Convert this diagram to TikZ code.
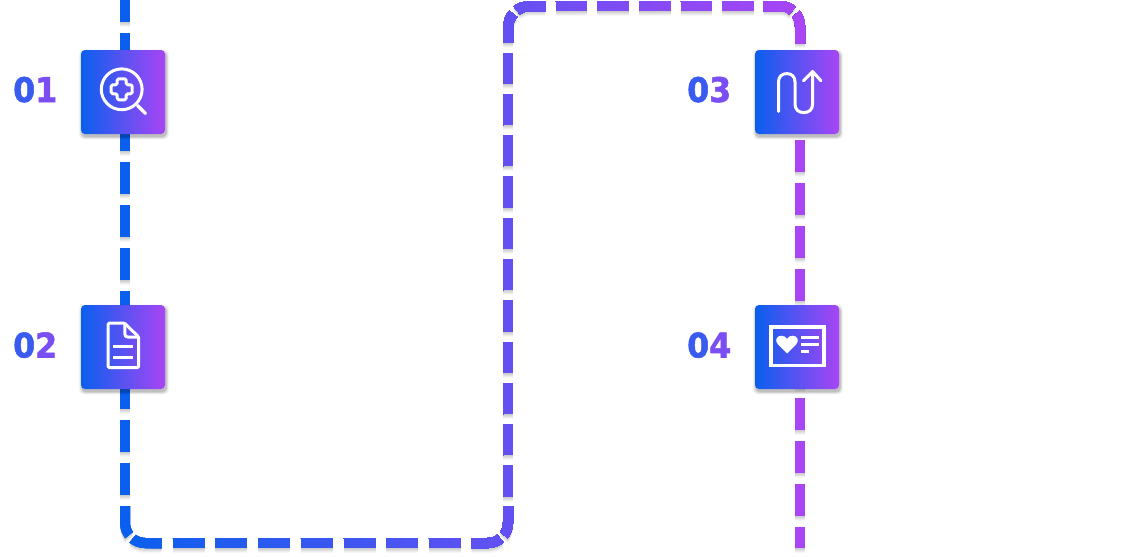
\documentclass[tikz,border=0pt]{standalone}
\usepackage{fontspec}
\setmainfont{DejaVu Sans}
\newfontfamily\numfont[FakeBold=1.6,FakeStretch=0.93]{DejaVu Sans Bold}
\usetikzlibrary{calc}
\definecolor{gradA}{HTML}{0A5FEE}
\definecolor{gradB}{HTML}{A845F5}
\definecolor{numA}{HTML}{3A5BF0}
\definecolor{numB}{HTML}{7A4EF3}
\tikzset{
  routeline/.style={line width=10pt,line cap=butt},
  iconbox/.style={rectangle,minimum size=84pt,inner sep=0pt,rounded corners=4pt,left color=gradA,right color=gradB,draw=none},
  iconline/.style={draw=white,line width=3pt,line cap=round,line join=round},
  numlabel/.style={anchor=base west,inner sep=0pt,font=\numfont\fontsize{34}{34}\selectfont},
}
% all the dashed pieces of the route
\newcommand{\routepieces}[1]{%
  \draw[routeline,#1,dash pattern=on 32pt off 11pt] (r0) -- (r1);
  \draw[routeline,#1,rounded corners=20pt,dash pattern=on 30pt off 5pt on 30pt] (r2) -- (r3) -- (r4);
  \draw[routeline,#1,dash pattern=on 32pt off 10.7pt] (r5) -- (r6);
  \draw[routeline,#1,rounded corners=20pt,dash pattern=on 29.7pt off 5pt on 29.7pt] (r7) -- (r8) -- (r9);
  \draw[routeline,#1,dash pattern=on 31.3pt off 10pt] (r10) -- (r11);
  \draw[routeline,#1,rounded corners=22pt,dash pattern=on 30pt off 5pt on 30pt] (r12) -- (r13) -- (r14);
  \draw[routeline,#1,dash pattern=on 31.5pt off 10.15pt] (r15) -- (r16);
  \draw[routeline,#1,rounded corners=20pt,dash pattern=on 30pt off 5pt on 30pt] (r17) -- (r18) -- (r19);
  \draw[routeline,#1,dash pattern=on 32pt off 11pt] (r20) -- (r21);
}
\newcommand{\boxshadow}[1]{%
  \foreach \s/\o in {6/.025,5/.03,4/.04,3/.05,2/.06,1/.07}{
    \fill[black,opacity=\o,rounded corners=5pt] ($(#1.south west)+(-\s*.5+1,\s*.5+2.5)$) rectangle ($(#1.north east)+(\s*.5+1,-\s*.5+2.5)$);
  }%
}
\begin{document}
\begin{tikzpicture}[x=1pt,y=-1pt]
\useasboundingbox (0,0) rectangle (1144,557);
\clip (0,0) rectangle (1144,557);
\fill[white] (0,0) rectangle (1144,557);
% route coordinates
\coordinate (r0) at (125,-10);   \coordinate (r1) at (125,495);
\coordinate (r2) at (125,506);   \coordinate (r3) at (125,543);   \coordinate (r4) at (161.7,543);
\coordinate (r5) at (172.7,543); \coordinate (r6) at (460.7,543);
\coordinate (r7) at (471.7,543); \coordinate (r8) at (508,543);   \coordinate (r9) at (508,506.7);
\coordinate (r10) at (508,496.7);\coordinate (r11) at (508,52.7);
\coordinate (r12) at (508,42.6); \coordinate (r13) at (508,6);    \coordinate (r14) at (545,6);
\coordinate (r15) at (555.7,6);  \coordinate (r16) at (753.8,6);
\coordinate (r17) at (763.5,6);  \coordinate (r18) at (800,6);    \coordinate (r19) at (800,43);
\coordinate (r20) at (800,140);  \coordinate (r21) at (800,548);
% route shadow
\foreach \d/\o in {1/.04,2/.05,3/.05,4/.04,5/.03}{
  \begin{scope}[transform canvas={yshift=-\d pt}]
    \routepieces{black,opacity=\o}
  \end{scope}
}
% route with a left-to-right colour run
\foreach \x in {116,120,...,808}{
  \pgfmathsetmacro{\t}{min(100,max(0,(\x+2-125)/6.75))}
  \begin{scope}
    \clip (\x,-20) rectangle (1150,577);
    \routepieces{draw=gradB!\t!gradA}
  \end{scope}
}
% boxes
\path (123,92) node[iconbox,opacity=0] (pre1) {} (123,347) node[iconbox,opacity=0] (pre2) {}
      (797,92) node[iconbox,opacity=0] (pre3) {} (797,347) node[iconbox,opacity=0] (pre4) {};
\boxshadow{pre1}\boxshadow{pre2}\boxshadow{pre3}\boxshadow{pre4}
\node[iconbox] (box1) at (123,92) {};
\node[iconbox] (box2) at (123,347) {};
\node[iconbox] (box3) at (797,92) {};
\node[iconbox] (box4) at (797,347) {};
% icon 1: magnifier with cross
\draw[iconline] (121.7,89.3) circle[radius=20.4];
\draw[iconline,line width=3.2pt] (137.5,105.5) -- (145.5,113.5);
\draw[iconline,rounded corners=1.5pt] (117.2,78.8) -- (126.2,78.8) -- (126.2,84.8) -- (132.2,84.8) -- (132.2,93.8) -- (126.2,93.8) -- (126.2,99.8) -- (117.2,99.8) -- (117.2,93.8) -- (111.2,93.8) -- (111.2,84.8) -- (117.2,84.8) -- cycle;
% icon 2: document
\draw[iconline,rounded corners=1.5pt] (124.5,323) -- (108,323) -- (108,367.7) -- (138.7,367.7) -- (138.7,337) -- cycle;
\draw[iconline] (124.8,323.5) -- (124.8,334) .. controls (124.8,336) and (126,337) .. (128,337) -- (138.5,337);
\draw[iconline,line cap=butt] (113.3,346.7) -- (133.3,346.7);
\draw[iconline,line cap=butt] (113.3,357) -- (133.3,357);
% icon 3: winding arrow
\draw[iconline] (778.5,111.5) -- (778.5,82) .. controls (778.5,76.5) and (782,73.6) .. (786.8,73.6) .. controls (791.6,73.6) and (795,76.5) .. (795,82) -- (795,104) .. controls (795,109.5) and (798.5,112.6) .. (803.8,112.6) .. controls (809,112.6) and (812.6,109.5) .. (812.6,104) -- (812.6,72);
\draw[iconline] (803.5,80.8) -- (812.6,71.5) -- (821,80.8);
% icon 4: card with heart
\draw[draw=white,line width=3.7pt] (770.9,326.9) rectangle (824.1,365.5);
\fill[white] (787,353.5) -- (777.8,344.3) .. controls (774.5,340.5) and (776.5,335.7) .. (781.5,335.7) .. controls (784,335.7) and (786,337) .. (787,338.8) .. controls (788,337) and (790,335.7) .. (792.5,335.7) .. controls (797.5,335.7) and (799.5,340.5) .. (796.2,344.3) -- cycle;
\draw[white,line width=3pt] (801,337.3) -- (819,337.3);
\draw[white,line width=3pt] (801,344.3) -- (819,344.3);
\draw[white,line width=3pt] (801,351.5) -- (808.5,351.5);
% numbers
\node[numlabel] (n1) at (13,102) {\textcolor{numA}{0}\textcolor{numB}{1}};
\node[numlabel] (n2) at (13,357.5) {\textcolor{numA}{0}\textcolor{numB}{2}};
\node[numlabel] (n3) at (687,102) {\textcolor{numA}{0}\textcolor{numB}{3}};
\node[numlabel] (n4) at (687,357.5) {\textcolor{numA}{0}\textcolor{numB}{4}};
\end{tikzpicture}
\end{document}
